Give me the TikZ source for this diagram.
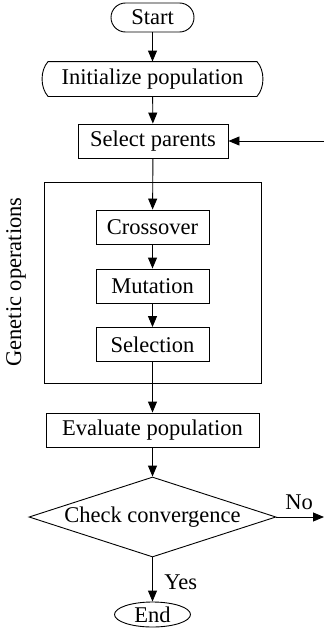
\documentclass[tikz,border=0pt]{standalone}
\usepackage{fontspec}
\setmainfont{Liberation Serif}
\usetikzlibrary{arrows.meta,shapes.geometric}
\begin{document}
\begin{tikzpicture}[x=1pt,y=-1pt,
  font=\fontsize{22.5}{27}\selectfont,
  line width=0.9pt,
  arr/.style={-{Triangle[length=11pt,width=9pt]}},
  box/.style={draw,rectangle,inner sep=0pt,minimum height=34pt},
  term/.style={draw,rectangle,rounded corners=14.5pt,inner sep=0pt,minimum width=83pt,minimum height=29pt},
  decide/.style={draw,diamond,aspect=3.09,inner sep=0pt,minimum width=247pt,minimum height=80pt},
  stop/.style={draw,ellipse,inner sep=0pt,minimum width=76pt,minimum height=25pt}]
\useasboundingbox (0,0) rectangle (324,629);

% outer frame of the genetic operations group
\node[draw,rectangle,inner sep=0pt,minimum width=217pt,minimum height=201pt] (gbox) at (152.5,282.5) {};
\node[rotate=90] (glabel) at (16,282) {Genetic operations};

\node[term] (start) at (152.5,17.5) {Start};
\node[inner sep=0pt,minimum width=208pt,minimum height=34pt] (init) at (152.5,79) {Initialize population};
\draw (init.north west) -- (init.north east)
  .. controls +(8,9) and +(8,-9) .. (init.south east)
  -- (init.south west)
  .. controls +(-8,-9) and +(-8,9) .. (init.north west) -- cycle;
\node[box,minimum width=150pt] (sel) at (153,141) {Select parents};
\node[box,minimum width=113pt] (cross) at (152.5,227) {Crossover};
\node[box,minimum width=113pt] (mut) at (152.5,286) {Mutation};
\node[box,minimum width=113pt] (selc) at (152.5,344.5) {Selection};
\node[box,minimum width=213pt] (eval) at (152.5,430) {Evaluate population};
\node[decide] (chk) at (152.5,517) {Check convergence};
\node[stop] (end) at (152.5,614.5) {End};

\coordinate (loopin) at (324,141);
\coordinate (noout) at (324,517);

\draw[arr] (start) -- (init);
\draw[arr] (init) -- (sel);
\draw[arr] (loopin) -- (sel.east);
\draw[arr] (sel) -- (cross);
\draw[arr] (cross) -- (mut);
\draw[arr] (mut) -- (selc);
\draw[arr] (selc) -- (eval);
\draw[arr] (eval) -- (chk);
\draw[arr] (chk.east) -- node[above,xshift=-1pt,yshift=4pt] (nolbl) {No} (noout);
\draw[arr] (chk.south) -- node[right,xshift=8pt,yshift=-3pt] (yeslbl) {Yes} (end.north);
\end{tikzpicture}
\end{document}
